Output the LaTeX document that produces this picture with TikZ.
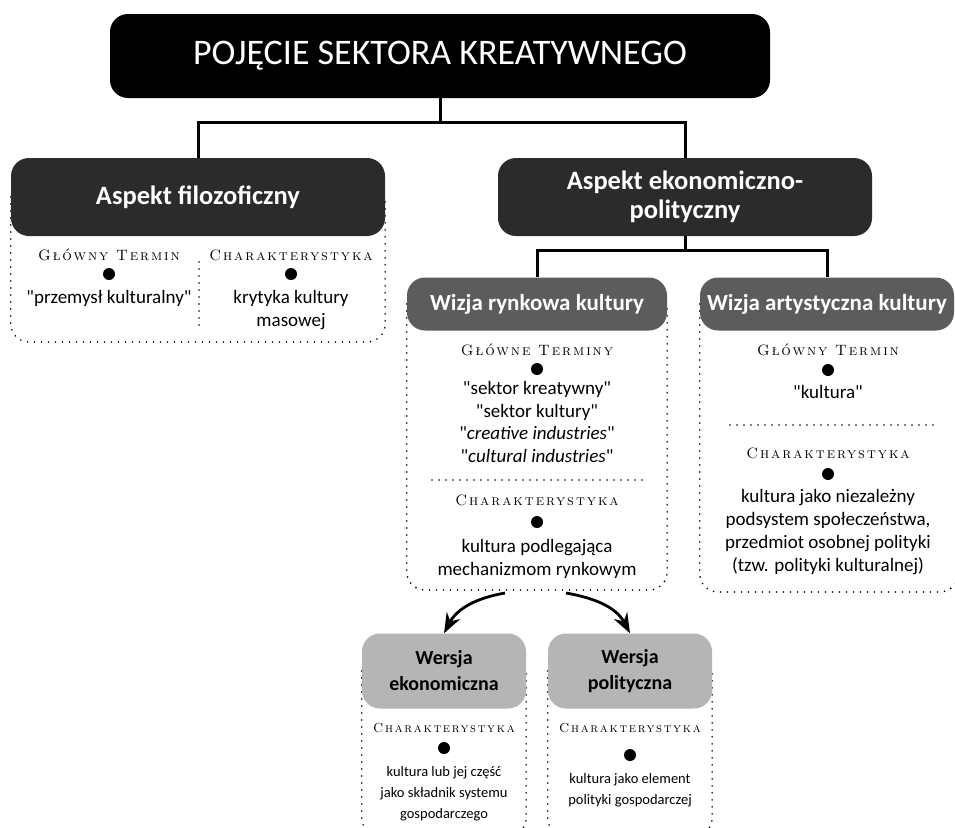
\documentclass[tikz,border=0pt]{standalone}
\usepackage{fontspec}
\setmainfont{Carlito}[Ligatures=TeXOff]
\newfontfamily\capsfont[LetterSpace=13]{lmromancaps10-regular.otf}
\usetikzlibrary{arrows.meta,backgrounds}

\definecolor{boxdark}{HTML}{2B2B2B}
\definecolor{boxmid}{HTML}{5C5C5C}
\definecolor{boxlight}{HTML}{B5B5B5}

\begin{document}
\begin{tikzpicture}[x=1pt,y=-1pt,
  box/.style={rounded corners=18pt,align=center,inner sep=0pt},
  mainbox/.style={box,fill=black,text=white,minimum width=660,minimum height=84,font=\fontsize{36}{40}\selectfont},
  aspbox/.style={box,fill=boxdark,text=white,minimum width=374,minimum height=78,font=\bfseries\fontsize{26.5}{29}\selectfont},
  visbox/.style={box,fill=boxmid,text=white,minimum height=53,font=\bfseries\fontsize{23}{26}\selectfont},
  verbox/.style={box,fill=boxlight,text=black,minimum width=164,minimum height=75,font=\bfseries\fontsize{20}{26}\selectfont},
  head/.style={inner sep=0pt,font=\capsfont\fontsize{15}{17}\selectfont},
  smallhead/.style={inner sep=0pt,font=\capsfont\fontsize{13}{15}\selectfont},
  bullet/.style={circle,fill=black,minimum size=12,inner sep=0pt},
  txt/.style={align=center,inner sep=0pt,font=\fontsize{19}{22.5}\selectfont},
  smalltxt/.style={align=center,inner sep=0pt,font=\fontsize{14.5}{21}\selectfont},
  link/.style={line width=3pt},
  bendarrow/.style={line width=2.8pt,-{Stealth[length=20pt,width=15pt]}},
  dots/.style={line width=1.8pt,line cap=round,dash pattern=on 0pt off 7pt},
]
\useasboundingbox (0,0) rectangle (955,827);

% boxes
\node[mainbox] (title) at (440,56) {POJĘCIE SEKTORA KREATYWNEGO};
\node[aspbox] (filo) at (198,197) {Aspekt filozoficzny};
\node[aspbox] (ekon) at (685,197) {Aspekt ekonomiczno-\\polityczny};
\node[visbox,minimum width=260] (rynek) at (537,304) {Wizja rynkowa kultury};
\node[visbox,minimum width=254] (artyst) at (827,304) {Wizja artystyczna kultury};
\node[verbox] (wekon) at (444,671) {Wersja\\ekonomiczna};
\node[verbox] (wpol) at (630,671) {Wersja\\polityczna};

% connectors
\coordinate (split1) at (440,122);
\coordinate (split2) at (685,250);
\draw[link] (title) -- (split1);
\draw[link] (filo.north) |- (split1) -| (ekon.north);
\draw[link] (ekon) -- (split2);
\draw[link] (rynek.north) |- (split2) -| (artyst.north);
\coordinate (rynekL) at (505,593);
\coordinate (rynekR) at (566,593);
\draw[bendarrow] (rynekL) to[out=190,in=62] (wekon.north);
\draw[bendarrow] (rynekR) to[out=-10,in=118] (wpol.north);

% Aspekt filozoficzny
\node[head] (filoH1) at (109,255) {Główny Termin};
\node[bullet] (filoB1) at (109,274) {};
\node[txt] (filoT1) at (109,298) {"przemysł kulturalny"};
\node[head] (filoH2) at (291,255) {Charakterystyka};
\node[bullet] (filoB2) at (291,274) {};
\node[txt] (filoT2) at (291,310) {krytyka kultury\\masowej};

% Wizja rynkowa
\node[head] (rynekH1) at (537,350) {Główne Terminy};
\node[bullet] (rynekB1) at (537,369) {};
\node[txt] (rynekT1) at (537,422) {"sektor kreatywny"\\"sektor kultury"\\"\textit{creative industries}"\\"\textit{cultural industries}"};
\node[head] (rynekH2) at (537,500) {Charakterystyka};
\node[bullet] (rynekB2) at (537,522) {};
\node[txt] (rynekT2) at (537,559) {kultura podlegająca\\mechanizmom rynkowym};

% Wizja artystyczna
\node[head] (artystH1) at (828,350) {Główny Termin};
\node[bullet] (artystB1) at (828,370) {};
\node[txt] (artystT1) at (828,392) {"kultura"};
\node[head] (artystH2) at (828,453) {Charakterystyka};
\node[bullet] (artystB2) at (828,474) {};
\node[txt,font=\fontsize{19}{23}\selectfont] (artystT2) at (828,532) {kultura jako niezależny\\podsystem społeczeństwa,\\przedmiot osobnej polityki\\(tzw. polityki kulturalnej)};

% Wersje
\node[smallhead] (wekonH) at (444,728) {Charakterystyka};
\node[bullet] (wekonB) at (444,748) {};
\node[smalltxt] (wekonT) at (444,794) {kultura lub jej część\\jako składnik systemu\\gospodarczego};
\node[smallhead] (wpolH) at (630,728) {Charakterystyka};
\node[bullet] (wpolB) at (630,755) {};
\node[smalltxt] (wpolT) at (630,790) {kultura jako element\\polityki gospodarczej};

% dotted frames
\begin{scope}[on background layer]
\fill[white] (0,0) rectangle (955,827);
\draw[dots,rounded corners=18pt] (filo.west) |- (198,342) -| (filo.east);
\draw[dots,rounded corners=18pt] (rynek.west) |- (537,590) -| (rynek.east);
\draw[dots,rounded corners=18pt] (artyst.west) |- (828,592) -| (958,304);
\draw[dots,rounded corners=18pt] (wekon.west) |- (444,836) -| (wekon.east);
\draw[dots,rounded corners=18pt] (wpol.west) |- (630,836) -| (wpol.east);
\end{scope}
\draw[dots] (199,262) -- (199,330);
\draw[dots] (432,480) -- (647,480);
\draw[dots] (730,425) -- (940,425);
\end{tikzpicture}
\end{document}
